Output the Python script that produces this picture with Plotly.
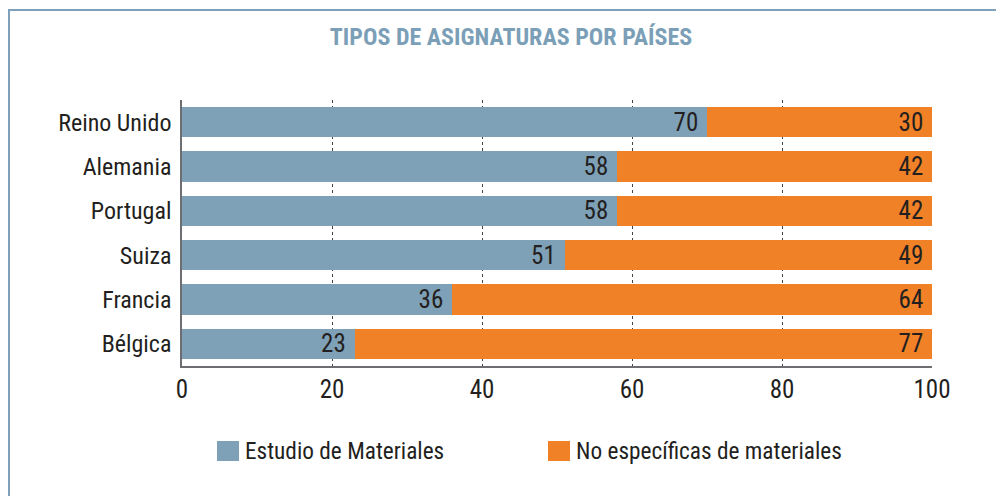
import plotly.graph_objects as go

# datos
paises = ["Reino Unido", "Alemania", "Portugal", "Suiza", "Francia", "Bélgica"]
materiales = [70, 58, 58, 51, 36, 23]
no_especificas = [30, 42, 42, 49, 64, 77]
series = ["Estudio de Materiales", "No específicas de materiales"]
colores = ["#7fa1b7", "#f08126"]
x_ticks = [0, 20, 40, 60, 80, 100]

FUENTE = "Liberation Sans Narrow, Roboto Condensed, Arial Narrow, sans-serif"

# la página añade 8px de margen: se trabaja en coordenadas de la figura
OFF = 8
FW, FH = 1004 - OFF, 496 - OFF
W0, W = 182 - OFF, 750
T0, H = 100 - OFF, 266

fig = go.Figure()
for nombre, valores, color in zip(series, [materiales, no_especificas], colores):
    fig.add_trace(go.Bar(
        y=paises, x=valores, name=nombre, orientation="h",
        marker=dict(color=color, line=dict(width=0)),
        text=valores, texttemplate="%{text}\u00a0", textposition="inside",
        insidetextanchor="end", textangle=0, constraintext="none",
        textfont=dict(color="#231f20", size=25, family=FUENTE),
        showlegend=False,
    ))

def px_x(p):
    return (p - OFF - W0) / W
def px_y(p):
    return (T0 + H - (p - OFF)) / H

# marco exterior (izquierda y arriba)
marco = "#7fa0bb"
fig.add_shape(type="line", xref="paper", yref="paper", x0=px_x(8), x1=px_x(1004),
              y0=px_y(10), y1=px_y(10), line=dict(color=marco, width=2))
fig.add_shape(type="line", xref="paper", yref="paper", x0=px_x(9), x1=px_x(9),
              y0=px_y(10), y1=px_y(500), line=dict(color=marco, width=2))

# leyenda manual
for i, (nombre, color) in enumerate(zip(series, colores)):
    x0 = [217, 548][i]
    fig.add_shape(type="rect", xref="paper", yref="paper",
                  x0=px_x(x0), x1=px_x(x0 + 22), y0=px_y(461), y1=px_y(441),
                  fillcolor=color, line=dict(width=0))
    fig.add_annotation(xref="paper", yref="paper", x=px_x(x0 + 26), y=px_y(451),
                       text=nombre, showarrow=False, xanchor="left", yanchor="middle",
                       font=dict(size=23.3, color="#231f20", family=FUENTE))

fig.update_layout(
    width=FW, height=FH,
    margin=dict(l=W0, r=FW - W0 - W, t=T0, b=FH - T0 - H, pad=0),
    paper_bgcolor="white", plot_bgcolor="white",
    barmode="stack", bargap=0.31,
    title=dict(text="<b>TIPOS DE ASIGNATURAS POR PAÍSES</b>", x=px_x(511), xref="paper",
               xanchor="center", y=1 - (37 - OFF) / FH, yanchor="middle",
               font=dict(size=24, color="#7c9fb8", family=FUENTE)),
    font=dict(family=FUENTE, color="#231f20"),
)
fig.update_xaxes(range=[0, 100], tickvals=x_ticks, showgrid=True,
                 gridcolor="#444444", griddash="dot", gridwidth=1,
                 showline=True, linecolor="#6d6e71", linewidth=1.5,
                 zeroline=False, tickfont=dict(size=25), ticks="")
fig.update_yaxes(autorange="reversed", showline=True, linecolor="#6d6e71", linewidth=1.5,
                 tickfont=dict(size=24), ticks="", ticklabelstandoff=4)

fig.write_html("out.html")
